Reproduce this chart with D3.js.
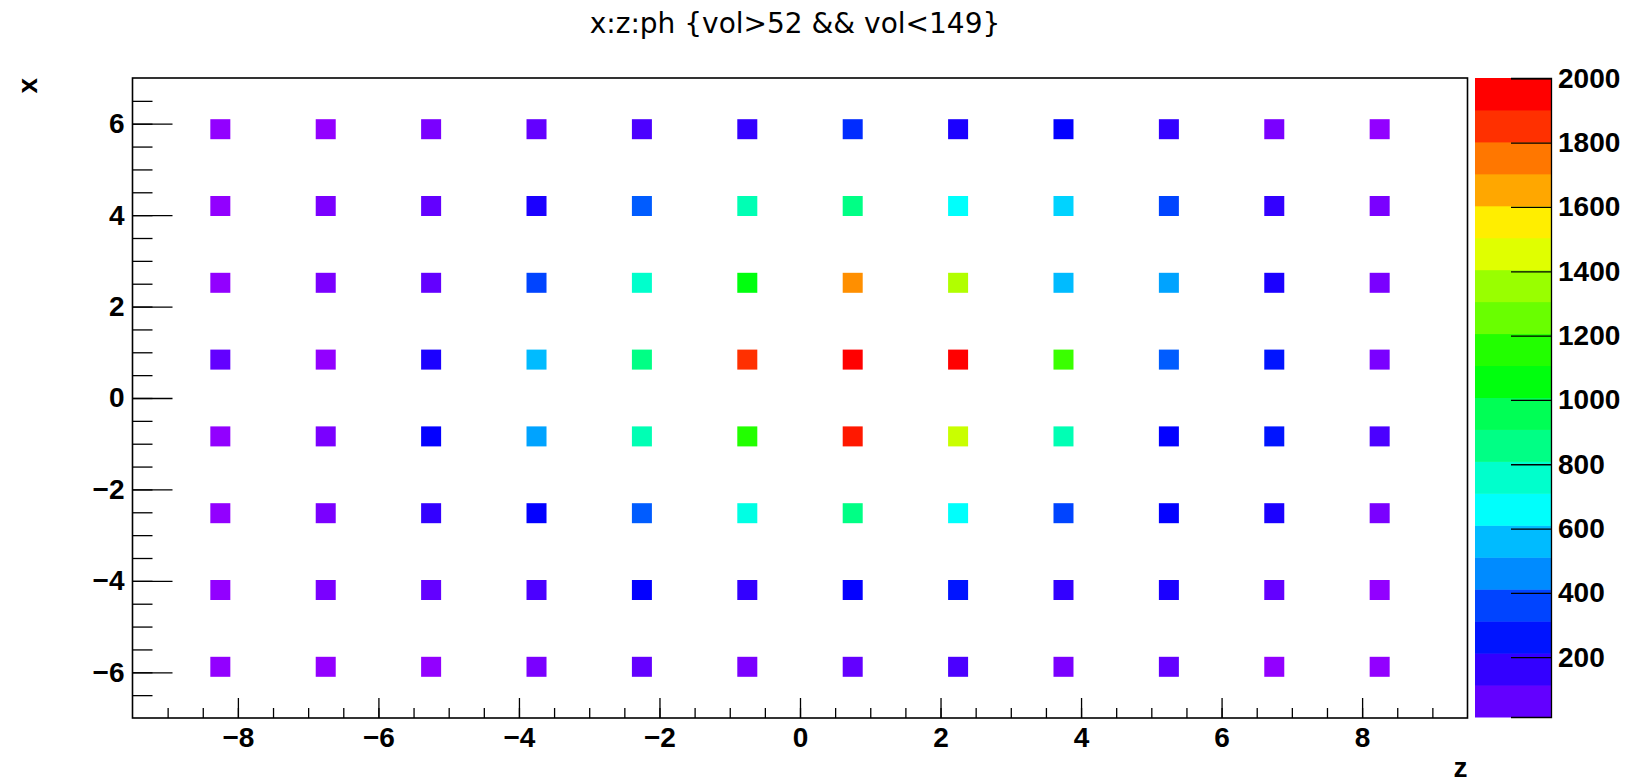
<!DOCTYPE html>
<html>
<head>
<meta charset="utf-8">
<script src="https://cdn.jsdelivr.net/npm/d3@7"></script>
<style>
  body { margin: 0; background: #fff; }
  svg { display: block; }
  text { font-family: "Liberation Sans", Arial, sans-serif; }
</style>
</head>
<body>
<svg width="1635" height="782"></svg>
<script>
// marker grid: columns along z, rows along x
const zVals = [-8.25, -6.75, -5.25, -3.75, -2.25, -0.75, 0.75, 2.25, 3.75, 5.25, 6.75, 8.25];
const xVals = [5.88, 4.2, 2.52, 0.84, -0.84, -2.52, -4.2, -5.88];

// ph per marker, one row per x value (top to bottom)
const ph = [
    [30, 40, 75, 115, 150, 195, 350, 235, 270, 190, 70, 25],
    [35, 70, 110, 230, 430, 830, 910, 710, 630, 390, 195, 75],
    [40, 75, 115, 395, 790, 1105, 1745, 1425, 590, 550, 235, 70],
    [110, 45, 235, 590, 905, 1900, 2001, 1985, 1225, 430, 310, 75],
    [45, 70, 275, 555, 830, 1185, 1940, 1465, 825, 270, 315, 155],
    [30, 75, 195, 270, 430, 750, 910, 710, 390, 275, 230, 80],
    [35, 80, 115, 155, 275, 195, 270, 310, 190, 230, 110, 40],
    [14, 30, 45, 70, 115, 75, 115, 150, 75, 110, 40, 35]
];

const zTicks = [-8, -6, -4, -2, 0, 2, 4, 6, 8];
const xTicks = [-6, -4, -2, 0, 2, 4, 6];
const phTicks = [200, 400, 600, 800, 1000, 1200, 1400, 1600, 1800, 2000];
const phRange = [14, 2001];
const nColors = 50;
const nContours = 20;

const svg = d3.select("svg");
const frame = { left: 132.5, right: 1467.5, top: 78, bottom: 718 };

const zScale = d3.scaleLinear().domain([-9.5, 9.5]).range([frame.left, frame.right]);
const xScale = d3.scaleLinear().domain([-7, 7]).range([frame.bottom, frame.top]);
const phScale = d3.scaleLinear().domain(phRange).range([717, 78]);

// ROOT "pretty" palette: 50 hues from violet to red
const palette = d3.range(nColors).map(j => d3.hsl(280 - (j + 1) * 5.6, 1, 0.5).formatHex());
const markerColor = v => {
    const j = Math.floor(nColors * (v - phRange[0]) / (phRange[1] - phRange[0]));
    return palette[Math.max(0, Math.min(nColors - 1, j))];
};

svg.append("rect").attr("width", 1635).attr("height", 782).attr("fill", "#fff");

// markers
const cells = [];
xVals.forEach((x, r) => zVals.forEach((z, c) => cells.push({ x, z, v: ph[r][c] })));

svg.append("g")
    .selectAll("rect")
    .data(cells)
    .join("rect")
    .attr("x", d => zScale(d.z) - 10)
    .attr("y", d => xScale(d.x) - 10)
    .attr("width", 20)
    .attr("height", 20)
    .attr("fill", d => markerColor(d.v));

// axes
const minorStep = (lo, hi) => d3.range(lo, hi + 0.001, 0.5);
const signed = d => d < 0 ? "\u2212" + Math.abs(d) : d;

const xAxisG = svg.append("g").attr("transform", `translate(0,${frame.bottom})`);
xAxisG.append("g")
    .call(d3.axisBottom(zScale).tickValues(minorStep(-9, 9)).tickSize(-10).tickFormat(""));
xAxisG.append("g")
    .call(d3.axisBottom(zScale).tickValues(zTicks).tickSize(-20).tickPadding(9).tickFormat(signed));

const yAxisG = svg.append("g").attr("transform", `translate(${frame.left},0)`);
yAxisG.append("g")
    .call(d3.axisLeft(xScale).tickValues(minorStep(-6.5, 6.5)).tickSize(-20).tickFormat(""));
yAxisG.append("g")
    .call(d3.axisLeft(xScale).tickValues(xTicks).tickSize(-40).tickPadding(8).tickFormat(signed));

svg.selectAll(".domain").remove();
svg.selectAll(".tick line").attr("stroke", "#000").attr("stroke-width", 1.3);
svg.selectAll(".tick text")
    .attr("fill", "#000")
    .style("font-size", "28px")
    .style("font-weight", "bold");

svg.append("rect")
    .attr("x", frame.left).attr("y", frame.top)
    .attr("width", frame.right - frame.left).attr("height", frame.bottom - frame.top)
    .attr("fill", "none").attr("stroke", "#000").attr("stroke-width", 1.6);

// colour bar
const bar = { left: 1475, right: 1551 };
const step = (phRange[1] - phRange[0]) / nContours;
svg.append("g")
    .selectAll("rect")
    .data(d3.range(nContours))
    .join("rect")
    .attr("x", bar.left)
    .attr("y", i => phScale(phRange[0] + (i + 1) * step))
    .attr("width", bar.right - bar.left)
    .attr("height", i => phScale(phRange[0] + i * step) - phScale(phRange[0] + (i + 1) * step) + 0.5)
    .attr("fill", i => palette[Math.floor((i + 0.99) * nColors / nContours)]);

const zAxisG = svg.append("g")
    .attr("transform", `translate(${bar.right},0)`)
    .call(d3.axisRight(phScale).tickValues(phTicks).tickSize(-40).tickPadding(7).tickFormat(d3.format("d")));
zAxisG.select(".domain").attr("stroke", "#000").attr("stroke-width", 1.3);
zAxisG.selectAll(".tick line").attr("stroke", "#000").attr("stroke-width", 1.3);
zAxisG.selectAll(".tick text")
    .attr("fill", "#000")
    .style("font-size", "28px")
    .style("font-weight", "bold");

// titles
svg.append("text")
    .attr("x", 795).attr("y", 33)
    .attr("text-anchor", "middle")
    .style("font-family", "'DejaVu Sans', sans-serif")
    .style("font-size", "28px")
    .text("x:z:ph {vol>52 && vol<149}");

svg.append("text")
    .attr("x", frame.right).attr("y", 777)
    .attr("text-anchor", "end")
    .style("font-size", "28px")
    .style("font-weight", "bold")
    .text("z");

svg.append("text")
    .attr("transform", "translate(37,78) rotate(-90)")
    .attr("text-anchor", "end")
    .style("font-size", "28px")
    .style("font-weight", "bold")
    .text("x");
</script>
</body>
</html>
